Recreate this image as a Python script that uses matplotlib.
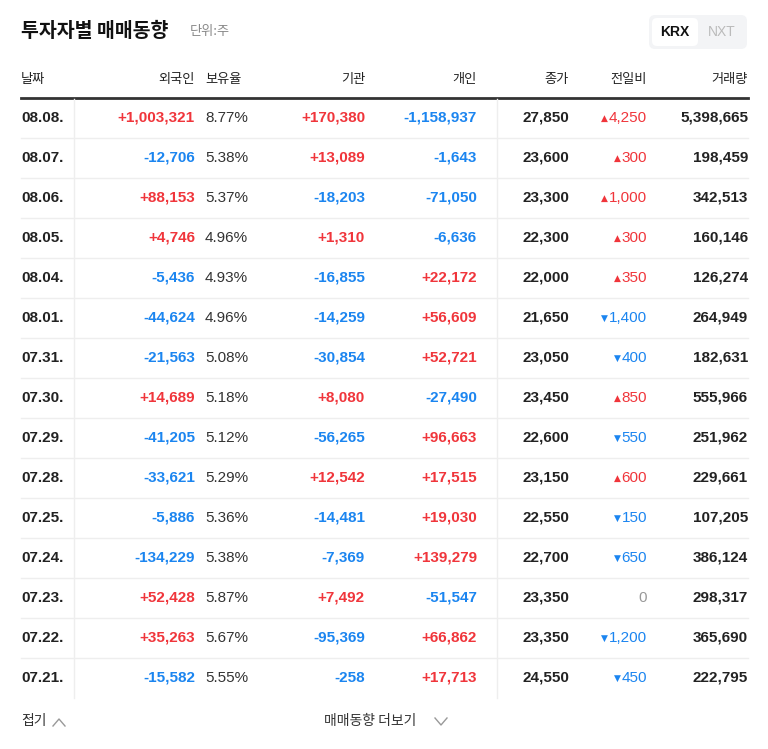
import matplotlib.pyplot as plt
from matplotlib.patches import FancyBboxPatch

KR = ['Noto Sans CJK JP', 'Noto Sans CJK KR', 'Noto Sans CJK SC', 'DejaVu Sans']
NUM = ['Liberation Sans', 'DejaVu Sans']
plt.rcParams['font.family'] = KR

dates = ['08.08.', '08.07.', '08.06.', '08.05.', '08.04.', '08.01.', '07.31.', '07.30.',
         '07.29.', '07.28.', '07.25.', '07.24.', '07.23.', '07.22.', '07.21.']
foreign = [1003321, -12706, 88153, 4746, -5436, -44624, -21563, 14689,
           -41205, -33621, -5886, -134229, 52428, 35263, -15582]
hold_ratio = [8.77, 5.38, 5.37, 4.96, 4.93, 4.96, 5.08, 5.18,
              5.12, 5.29, 5.36, 5.38, 5.87, 5.67, 5.55]
institution = [170380, 13089, -18203, 1310, -16855, -14259, -30854, 8080,
               -56265, 12542, -14481, -7369, 7492, -95369, -258]
individual = [-1158937, -1643, -71050, -6636, 22172, 56609, 52721, -27490,
              96663, 17515, 19030, 139279, -51547, 66862, 17713]
close = [27850, 23600, 23300, 22300, 22000, 21650, 23050, 23450,
         22600, 23150, 22550, 22700, 23350, 23350, 24550]
change = [4250, 300, 1000, 300, 350, -1400, -400, 850,
          -550, 600, -150, -650, 0, -1200, -450]
volume = [5398665, 198459, 342513, 160146, 126274, 264949, 182631, 555966,
          251962, 229661, 107205, 386124, 298317, 365690, 222795]
headers = ['날짜', '외국인', '보유율', '기관', '개인', '종가', '전일비', '거래량']

RED = '#f0353b'
BLUE = '#1b85f0'
DARK = '#222222'
FS = 11


def signed(v):
    s = f"{v:+,}" if v != 0 else "0"
    return s, (RED if v > 0 else BLUE if v < 0 else '#999999')


fig = plt.figure(figsize=(7.68, 7.49), dpi=100)
ax = fig.add_axes([0, 0, 1, 1])
ax.set_xlim(0, 768)
ax.set_ylim(749, 0)
ax.axis('off')

# title
ax.text(21, 31, '투자자별 매매동향', fontsize=14, fontweight='bold', color='#111111', va='center')
ax.text(190, 32, '단위:주', fontsize=9.5, color='#888888', va='center')

# KRX / NXT toggle
ax.add_patch(FancyBboxPatch((649, 15), 98, 34, boxstyle='round,pad=0,rounding_size=6',
                            fc='#f3f4f6', ec='none'))
ax.add_patch(FancyBboxPatch((652, 18), 46, 28, boxstyle='round,pad=0,rounding_size=5',
                            fc='white', ec='none'))
ax.text(675, 32, 'KRX', fontsize=10, fontweight='bold', color='#111111', ha='center',
        va='center', family=NUM)
ax.text(722, 32, 'NXT', fontsize=10, color='#bbbbbb', ha='center', va='center', family=NUM)

# header
hx = [(21, 'left'), (195, 'right'), (205, 'left'), (365, 'right'), (477, 'right'),
      (569, 'right'), (647, 'right'), (748, 'right')]
for (x, ha), h in zip(hx, headers):
    ax.text(x, 80, h, fontsize=9.5, color='#222222', ha=ha, va='center')
ax.plot([21, 748], [98, 98], color='#333333', lw=2)

row_h = 40
y0 = 118
for i, d in enumerate(dates):
    y = y0 + i * row_h
    ax.text(21, y, d, fontsize=FS, fontweight='bold', color=DARK, va='center', family=NUM)
    s, c = signed(foreign[i])
    ax.text(195, y, s, fontsize=FS, fontweight='bold', color=c, ha='right', va='center', family=NUM)
    ax.text(205, y, f"{hold_ratio[i]:.2f}%", fontsize=FS, color='#333333', va='center', family=NUM)
    s, c = signed(institution[i])
    ax.text(365, y, s, fontsize=FS, fontweight='bold', color=c, ha='right', va='center', family=NUM)
    s, c = signed(individual[i])
    ax.text(477, y, s, fontsize=FS, fontweight='bold', color=c, ha='right', va='center', family=NUM)
    ax.text(569, y, f"{close[i]:,}", fontsize=FS, fontweight='bold', color=DARK, ha='right',
            va='center', family=NUM)
    ch = change[i]
    if ch == 0:
        ax.text(647, y, "0", fontsize=FS, color='#999999', ha='right', va='center', family=NUM)
    else:
        c = RED if ch > 0 else BLUE
        t = ax.text(647, y, f"{abs(ch):,}", fontsize=FS, color=c, ha='right', va='center', family=NUM)
        fig.canvas.draw() if i == 0 else None
        w = t.get_window_extent(renderer=fig.canvas.get_renderer()).width
        ax.text(647 - w - 1, y, '▲' if ch > 0 else '▼', fontsize=6.5, color=c, ha='right',
                va='center', family=['DejaVu Sans'])
    ax.text(748, y, f"{volume[i]:,}", fontsize=FS, fontweight='bold', color=DARK, ha='right',
            va='center', family=NUM)
    if i < len(dates) - 1:
        ax.plot([21, 748], [y + row_h / 2, y + row_h / 2], color='#eeeeee', lw=1)

bottom = y0 + (len(dates) - 1) * row_h + row_h / 2
for x in (74, 497):
    ax.plot([x, x], [99, bottom], color='#eeeeee', lw=1)

# footer
ax.text(21, 721, '접기', fontsize=10, color='#333333', va='center')
ax.plot([53, 59, 65], [726, 719, 726], color='#999999', lw=1)
ax.text(324, 721, '매매동향 더보기', fontsize=10, color='#333333', va='center')
ax.plot([435, 441, 447], [718, 725, 718], color='#999999', lw=1)

fig.savefig('out.png', dpi=100)
